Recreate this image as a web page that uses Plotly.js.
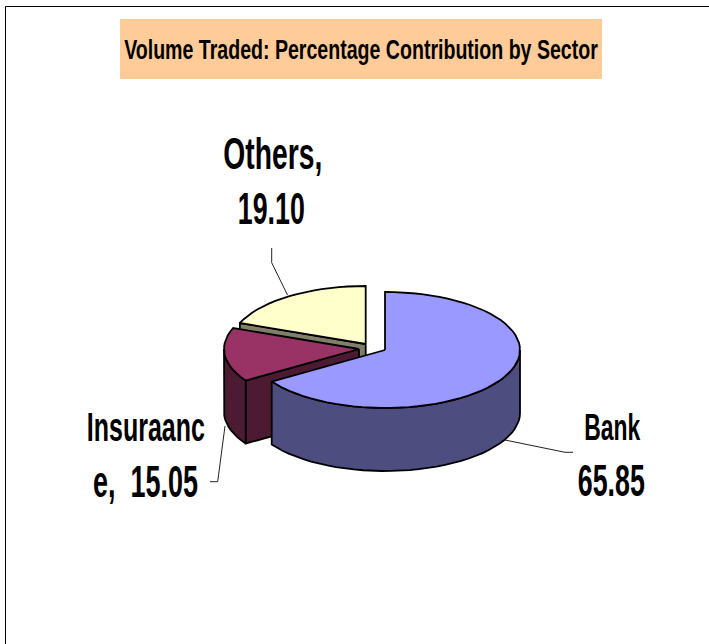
<!DOCTYPE html>
<html><head><meta charset="utf-8">
<script src="https://cdn.plot.ly/plotly-3.0.1.min.js"></script>
<style>html,body{margin:0;padding:0;background:#fff;overflow:hidden}</style>
</head><body><div id="chart" style="width:709px;height:644px"></div>
<script>
// Data
const sectors = ['Bank', 'Insuraance', 'Others'];
const values = [65.85, 15.05, 19.10];
const topColors = ['#9999FF', '#993366', '#FFFFCC'];
const sideColors = ['#4D4D80', '#4D1A33', '#80806A'];
const labelLines = [['Bank', '65.85'], ['Insuraanc', 'e,  15.05'], ['Others,', '19.10']];
const titleText = 'Volume Traded: Percentage Contribution by Sector';

// Pie projection (axes are in picture units)
const RX = 135, RY = 58, DEPTH = 63;
const centers = [[385, 350], [359, 349], [365.7, 344]];
const labelPos = [[[612, 427], [611.5, 480]], [[146, 427], [145.5, 481]], [[272.5, 153], [271.5, 208.5]]];
const labelSize = [[37, 45], [41, 45], [45, 45]];
const labelWidth = [[56, 67], [118, 105], [99, 67]];
const titleWidth = 474;
const leaders = [
  [[505, 440], [565, 452.3], [573, 452.3]],
  [[225, 426], [217.7, 481.7], [210, 481.7]],
  [[271.7, 248], [271.7, 262.7], [287.5, 295]]
];
const FONT = '"Liberation Sans",Arial,sans-serif';

const total = values.reduce((a, b) => a + b, 0);
let acc = 0;
const spans = values.map(v => { const s = acc; acc += v / total * 360; return [s, acc]; });

const pt = (c, deg, drop = 0) => {
  const r = deg * Math.PI / 180;
  return [c[0] + RX * Math.sin(r), c[1] - RY * Math.cos(r) + drop];
};
const arc = (c, a, b, drop = 0) => {
  const out = [];
  const n = Math.max(1, Math.ceil(Math.abs(b - a) / 4));
  for (let i = 0; i <= n; i++) out.push(pt(c, a + (b - a) * i / n, drop));
  return out;
};
const poly = (pts, fill) => ({
  type: 'scatter', mode: 'lines', fill: 'toself', fillcolor: fill,
  x: pts.map(p => p[0]), y: pts.map(p => p[1]),
  line: {color: '#000', width: 1.8, shape: 'linear'},
  hoverinfo: 'skip', showlegend: false
});

const traces = [];
// painter's order: back slice first
[2, 1, 0].forEach(i => {
  const c = centers[i], [a, b] = spans[i];
  const bottom = [c[0], c[1] + DEPTH];
  // cut faces that look towards the viewer
  if (a > 180 && a < 360) traces.push(poly([c, pt(c, a), pt(c, a, DEPTH), bottom, c], sideColors[i]));
  if (b > 0 && b < 180) traces.push(poly([c, pt(c, b), pt(c, b, DEPTH), bottom, c], sideColors[i]));
  // visible rim wall (front half: 90..270 degrees)
  const lo = Math.max(a, 90), hi = Math.min(b, 270);
  if (hi > lo) {
    const rim = arc(c, lo, hi).concat(arc(c, hi, lo, DEPTH));
    rim.push(rim[0]);
    traces.push(poly(rim, sideColors[i]));
  }
  // top face
  traces.push(poly([c].concat(arc(c, a, b)).concat([c]), topColors[i]));
});
leaders.forEach(l => traces.push({
  type: 'scatter', mode: 'lines', x: l.map(p => p[0]), y: l.map(p => p[1]),
  line: {color: '#222', width: 1}, hoverinfo: 'skip', showlegend: false
}));

const annotations = [];
const widths = [];
labelLines.forEach((lines, i) => lines.forEach((t, j) => {
  annotations.push({
    text: t, x: labelPos[i][j][0], y: labelPos[i][j][1], xref: 'x', yref: 'y',
    xanchor: 'center', yanchor: 'middle', showarrow: false,
    font: {family: FONT, size: labelSize[i][j], color: '#000', weight: 700}
  });
  widths.push(labelWidth[i][j]);
}));

const layout = {
  width: 709, height: 644, margin: {l: 0, r: 0, t: 0, b: 0},
  paper_bgcolor: '#fff', plot_bgcolor: '#fff', showlegend: false,
  title: {text: titleText, x: 361 / 709, y: 1 - 49 / 644, xanchor: 'center', yanchor: 'middle',
          font: {family: FONT, size: 28, color: '#000', weight: 700}},
  xaxis: {range: [0, 709], visible: false, fixedrange: true},
  yaxis: {range: [644, 0], visible: false, fixedrange: true},
  shapes: [
    {type: 'rect', xref: 'x', yref: 'y', x0: 120, x1: 602, y0: 19, y1: 79, fillcolor: '#FFCC99', line: {width: 0}, layer: 'below'},
    {type: 'path', xref: 'x', yref: 'y', path: 'M5.5,644 L5.5,6.5 L709,6.5', line: {color: '#000', width: 1}, layer: 'below'}
  ],
  annotations
};
Plotly.newPlot('chart', traces, layout, {displayModeBar: false, staticPlot: true}).then(gd => {
  // The reference uses horizontally condensed type: squeeze real text to its measured width.
  gd.querySelectorAll('.annotation-text').forEach((el, i) => {
    el.setAttribute('textLength', widths[i]);
    el.setAttribute('lengthAdjust', 'spacingAndGlyphs');
  });
  const t = gd.querySelector('.gtitle');
  if (t) {
    const cx = 361, s = titleWidth / t.getComputedTextLength();
    const prev = t.getAttribute('transform') || '';
    t.setAttribute('transform', `${prev} translate(${cx},0) scale(${s},1) translate(${-cx},0)`);
  }
});
</script></body></html>
